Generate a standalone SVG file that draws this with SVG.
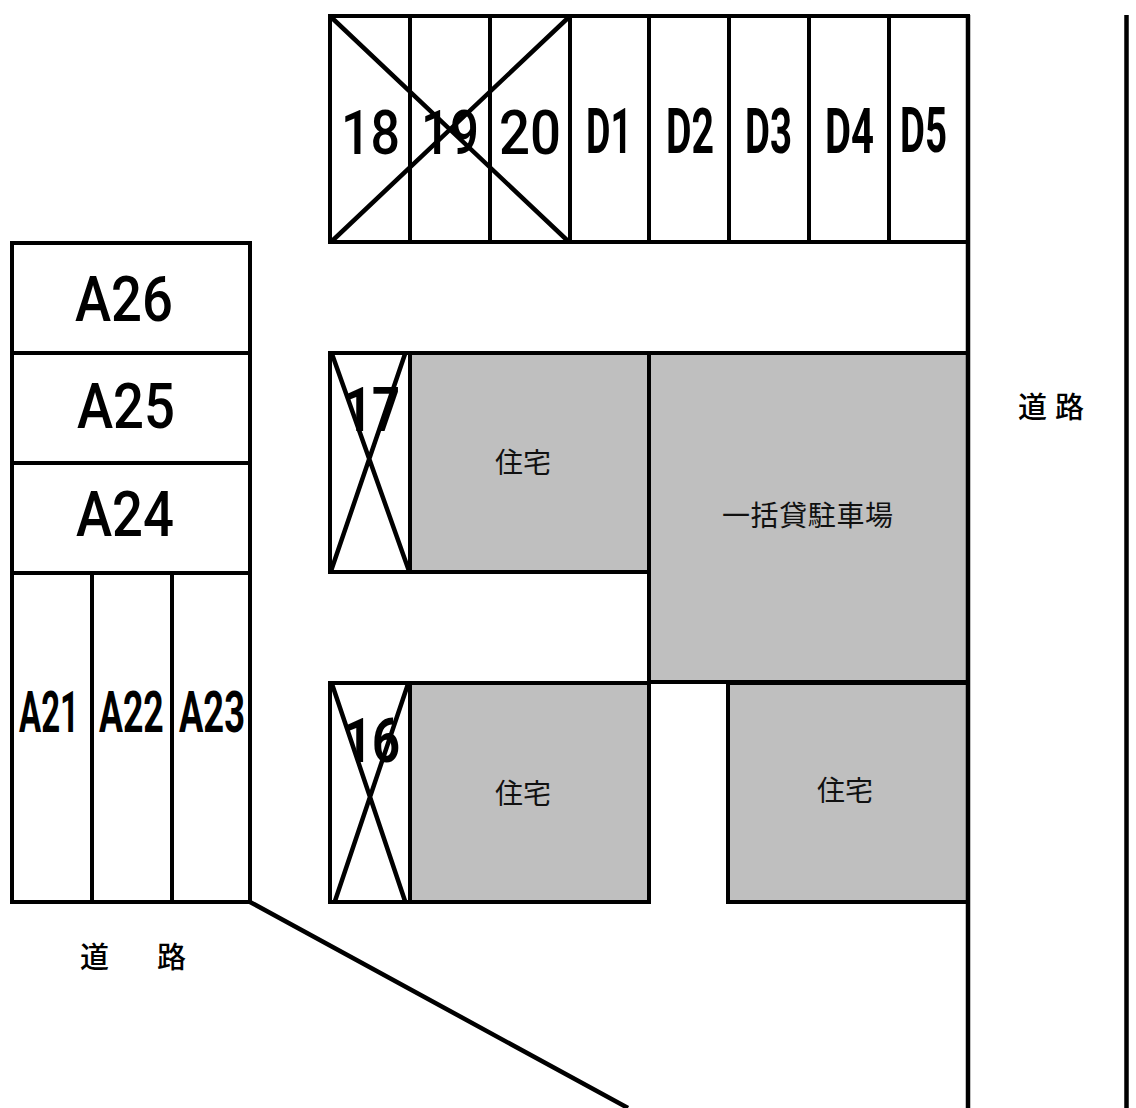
<svg xmlns="http://www.w3.org/2000/svg" width="1136" height="1108" viewBox="0 0 1136 1108">
<style>
.s{fill:#fff;stroke:#000;stroke-width:4}
.g{fill:#bfbfbf;stroke:#000;stroke-width:4}
.l{fill:none;stroke:#000;stroke-width:4.5}
.x{fill:none;stroke:#000;stroke-width:4.5}
.n{font-family:"Roboto","Liberation Sans",sans-serif;font-weight:500;font-size:62px;fill:#000}
.b{font-weight:700}
.a{font-size:63px}
.t{font-size:58px;font-weight:700}
.c{font-family:"Noto Sans CJK JP",sans-serif;font-size:28px;fill:#111}
.r{font-family:"Noto Sans CJK JP",sans-serif;font-size:29px;font-weight:500;fill:#000}
</style>
<rect width="1136" height="1108" fill="#fff"/>
<g id="lot-18"><rect class="s" x="330" y="16" width="80" height="226"/><text class="n" x="341" y="154" textLength="59" lengthAdjust="spacingAndGlyphs">18</text></g>
<g id="lot-19"><rect class="s" x="410" y="16" width="80" height="226"/><text class="n" x="421" y="154" textLength="58" lengthAdjust="spacingAndGlyphs">19</text></g>
<g id="lot-20"><rect class="s" x="490" y="16" width="80" height="226"/><text class="n" x="499" y="154" textLength="62" lengthAdjust="spacingAndGlyphs">20</text></g>
<g id="lot-D1"><rect class="s" x="570" y="16" width="79" height="226"/><text class="n b a" x="586" y="153" textLength="46" lengthAdjust="spacingAndGlyphs">D1</text></g>
<g id="lot-D2"><rect class="s" x="649" y="16" width="80" height="226"/><text class="n b a" x="666" y="153" textLength="48" lengthAdjust="spacingAndGlyphs">D2</text></g>
<g id="lot-D3"><rect class="s" x="729" y="16" width="80" height="226"/><text class="n b a" x="745" y="153" textLength="47" lengthAdjust="spacingAndGlyphs">D3</text></g>
<g id="lot-D4"><rect class="s" x="809" y="16" width="80" height="226"/><text class="n b a" x="825" y="153" textLength="49" lengthAdjust="spacingAndGlyphs">D4</text></g>
<g id="lot-D5"><rect class="s" x="889" y="16" width="79" height="226"/><text class="n b a" x="900" y="152" textLength="47" lengthAdjust="spacingAndGlyphs">D5</text></g>
<g id="lot-A26"><rect class="s" x="12" y="243" width="238" height="110"/><text class="n a" x="75" y="321" textLength="98" lengthAdjust="spacingAndGlyphs">A26</text></g>
<g id="lot-A25"><rect class="s" x="12" y="353" width="238" height="110"/><text class="n a" x="77" y="428" textLength="98" lengthAdjust="spacingAndGlyphs">A25</text></g>
<g id="lot-A24"><rect class="s" x="12" y="463" width="238" height="110"/><text class="n a" x="76" y="536" textLength="98" lengthAdjust="spacingAndGlyphs">A24</text></g>
<g id="lot-A21"><rect class="s" x="12" y="573" width="80" height="329"/><text class="n t" transform="translate(19 732) scale(.6 1)" textLength="100" lengthAdjust="spacingAndGlyphs">A21</text></g>
<g id="lot-A22"><rect class="s" x="92" y="573" width="80" height="329"/><text class="n t" transform="translate(99 732) scale(.6 1)" textLength="108" lengthAdjust="spacingAndGlyphs">A22</text></g>
<g id="lot-A23"><rect class="s" x="172" y="573" width="78" height="329"/><text class="n t" transform="translate(179 732) scale(.6 1)" textLength="110" lengthAdjust="spacingAndGlyphs">A23</text></g>
<g id="lot-17"><rect class="s" x="330" y="353" width="80" height="219"/><text class="n b" x="344" y="431" textLength="56" lengthAdjust="spacingAndGlyphs">17</text></g>
<g id="lot-16"><rect class="s" x="330" y="683" width="80" height="219"/><text class="n b" x="344" y="762" textLength="56" lengthAdjust="spacingAndGlyphs">16</text></g>
<g id="house-1"><rect class="g" x="410" y="353" width="239" height="219"/><text class="c" x="495" y="473">住宅</text></g>
<g id="bulk-parking"><rect class="g" x="649" y="353" width="319" height="329"/><text class="c" x="722" y="526" textLength="171">一括貸駐車場</text></g>
<g id="house-2"><rect class="g" x="410" y="683" width="239" height="219"/><text class="c" x="495" y="804">住宅</text></g>
<g id="house-3"><rect class="g" x="728" y="683" width="240" height="219"/><text class="c" x="817" y="801">住宅</text></g>
<g id="road-right"><text class="r" x="1018" y="418" textLength="66">道路</text></g>
<g id="road-bottom"><text class="r" x="80" y="968" textLength="106">道路</text></g>
<g id="connectors">
<path class="x" d="M331 17L569 242M569 17L331 242M332 354L409 571M405 354L331 571M332 684L405 901M408 684L335 901"/>
<path class="l" d="M968 15V1108M1126.500 15V1108M250 902L628 1108"/>
</g>
</svg>
